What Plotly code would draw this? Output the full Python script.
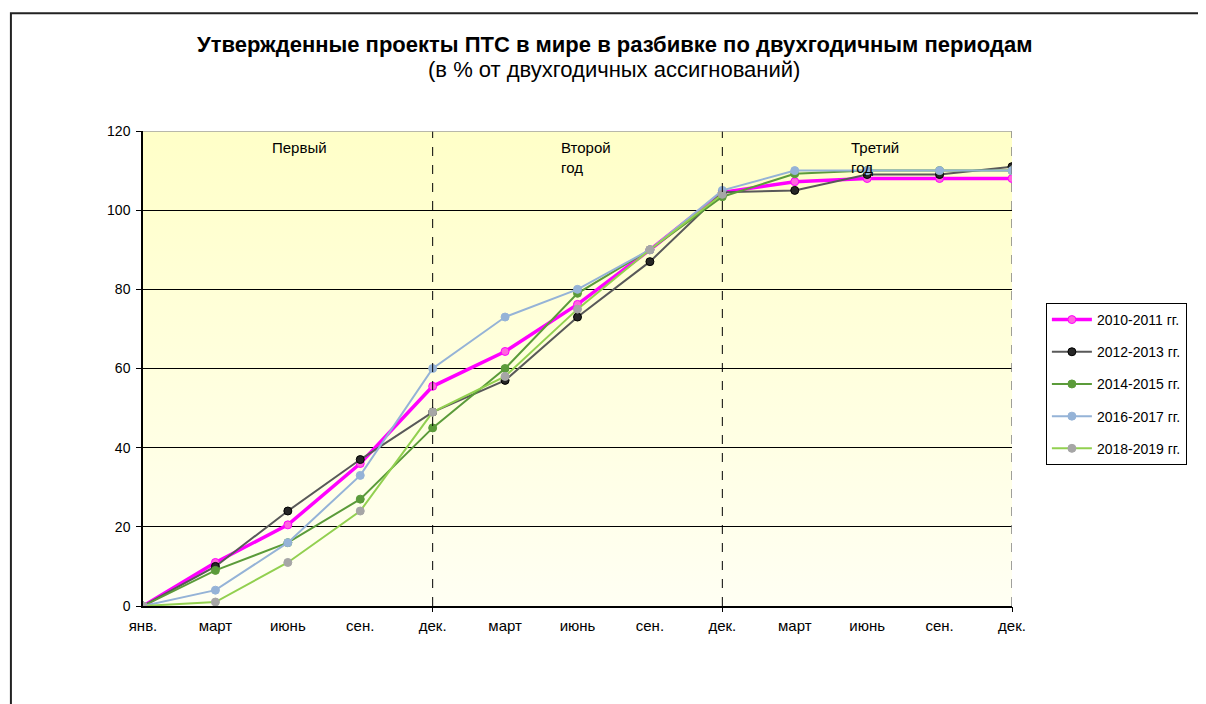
import base64
import plotly.graph_objects as go

months = ["янв.", "март", "июнь", "сен.", "дек.", "март", "июнь", "сен.", "дек.", "март", "июнь", "сен.", "дек."]
y_ticks = [0, 20, 40, 60, 80, 100, 120]

s2010 = [0, 11, 20.5, 36, 55.5, 64.3, 76.2, 90, 104.5, 107.2, 108, 108, 108]
s2012 = [0, 10, 24, 37, 49, 57, 73, 87, 104.5, 105, 109, 109, 111]
s2014 = [0, 9, 16, 27, 45, 60, 79, 90, 103.4, 109.2, 110, 110, 110]
s2016 = [0, 4, 16, 33, 60, 73, 80, 90, 105, 110, 110, 110, 110]
s2018 = [0, 1, 11, 24, 49, 58, 75, 90, 104]

period_labels = ["Первый", "Второй<br>год", "Третий<br>год"]
series = [
    ("2010-2011 гг.", s2010, "#FF00FF", 3.5, "#FF66DD", "#FF00FF"),
    ("2012-2013 гг.", s2012, "#595959", 2, "#262626", "#000000"),
    ("2014-2015 гг.", s2014, "#5B9B3A", 2, "#5B9B3A", "#5B9B3A"),
    ("2016-2017 гг.", s2016, "#95B3D7", 2, "#95B3D7", "#95B3D7"),
    ("2018-2019 гг.", s2018, "#92D050", 2, "#A6A6A6", "#A6A6A6"),
]

xs = list(range(len(months)))
fig = go.Figure()
for name, vals, lc, lw, mfill, mline in series:
    fig.add_trace(go.Scatter(
        x=xs[:len(vals)], y=vals, name=name, mode="lines+markers",
        line=dict(color=lc, width=lw),
        marker=dict(size=8, color=mfill, line=dict(color=mline, width=1)),
        legendgroup=name,
    ))

# invisible trace carrying the secondary x-axis tick marks
fig.add_trace(go.Scatter(x=[0], y=[0], xaxis="x2", mode="markers",
                         marker=dict(opacity=0), showlegend=False, hoverinfo="skip"))

svg = ('<svg xmlns="http://www.w3.org/2000/svg" width="10" height="100" preserveAspectRatio="none">'
       '<defs><linearGradient id="g" x1="0" y1="0" x2="0" y2="1">'
       '<stop offset="0" stop-color="#FFFFC8"/><stop offset="1" stop-color="#FFFFF3"/>'
       '</linearGradient></defs><rect width="10" height="100" fill="url(#g)"/></svg>')
uri = "data:image/svg+xml;base64," + base64.b64encode(svg.encode()).decode()
fig.add_layout_image(dict(source=uri, xref="x", yref="y", x=0, y=120, sizex=12, sizey=120,
                          sizing="stretch", layer="below", xanchor="left", yanchor="top"))

shapes = []
for xv in (4, 8):
    shapes.append(dict(type="line", xref="x", yref="y", x0=xv, x1=xv, y0=0, y1=120,
                       line=dict(color="black", width=1, dash="dash")))
shapes.append(dict(type="line", xref="x", yref="y", x0=12, x1=12, y0=0, y1=120,
                   line=dict(color="#808080", width=1.5, dash="dash")))
shapes.append(dict(type="line", xref="x", yref="y", x0=0, x1=12, y0=120, y1=120,
                   line=dict(color="#A0A0A0", width=1.5)))
# outer chart border
shapes.append(dict(type="rect", xref="paper", yref="paper", x0=-0.152, x1=1.3, y0=-0.3, y1=1.248,
                   line=dict(color="#222222", width=2), fillcolor="rgba(0,0,0,0)"))

annotations = [
    dict(text="<b>Утвержденные проекты ПТС в мире в разбивке по двухгодичным периодам</b>",
         xref="paper", yref="paper", x=0.5425, y=1.182, showarrow=False,
         font=dict(size=22, color="black"), xanchor="center", yanchor="middle"),
    dict(text="(в % от двухгодичных ассигнований)",
         xref="paper", yref="paper", x=0.5425, y=1.129, showarrow=False,
         font=dict(size=22, color="black"), xanchor="center", yanchor="middle"),
]
for i, lab in enumerate(period_labels):
    annotations.append(dict(text=lab, xref="x", yref="y", x=1.75 + 4 * i, y=118.5,
                            showarrow=False, xanchor="left", yanchor="top", align="left",
                            font=dict(size=15, color="black")))

fig.update_layout(
    width=1198, height=696,
    margin=dict(l=135, r=194, t=123, b=98),
    paper_bgcolor="white", plot_bgcolor="rgba(0,0,0,0)",
    font=dict(family="Liberation Sans, Arial, sans-serif", color="black"),
    showlegend=True,
    legend=dict(x=1.039, y=0.638, xanchor="left", yanchor="top",
                bordercolor="black", borderwidth=1, bgcolor="white",
                font=dict(size=14), tracegroupgap=11, itemwidth=40),
    xaxis=dict(range=[0, 12], tickvals=xs, ticktext=months, showgrid=False, zeroline=False,
               showline=True, linecolor="black", linewidth=1.5, ticks="", tickfont=dict(size=15),
               ticklabelstandoff=5, fixedrange=True),
    xaxis2=dict(range=[0, 12], overlaying="x", side="bottom", tickvals=[4, 8, 12], ticktext=["", "", ""],
                ticks="outside", ticklen=5, tickcolor="black", showgrid=False, zeroline=False,
                showline=False),
    yaxis=dict(range=[0, 120], tickvals=y_ticks, showgrid=True, gridcolor="black", gridwidth=1,
               zeroline=False, showline=True, linecolor="black", linewidth=1.5,
               ticks="outside", ticklen=5, tickcolor="black", tickfont=dict(size=14),
               ticklabelstandoff=3),
    shapes=shapes, annotations=annotations,
)
fig.write_html("out.html")
